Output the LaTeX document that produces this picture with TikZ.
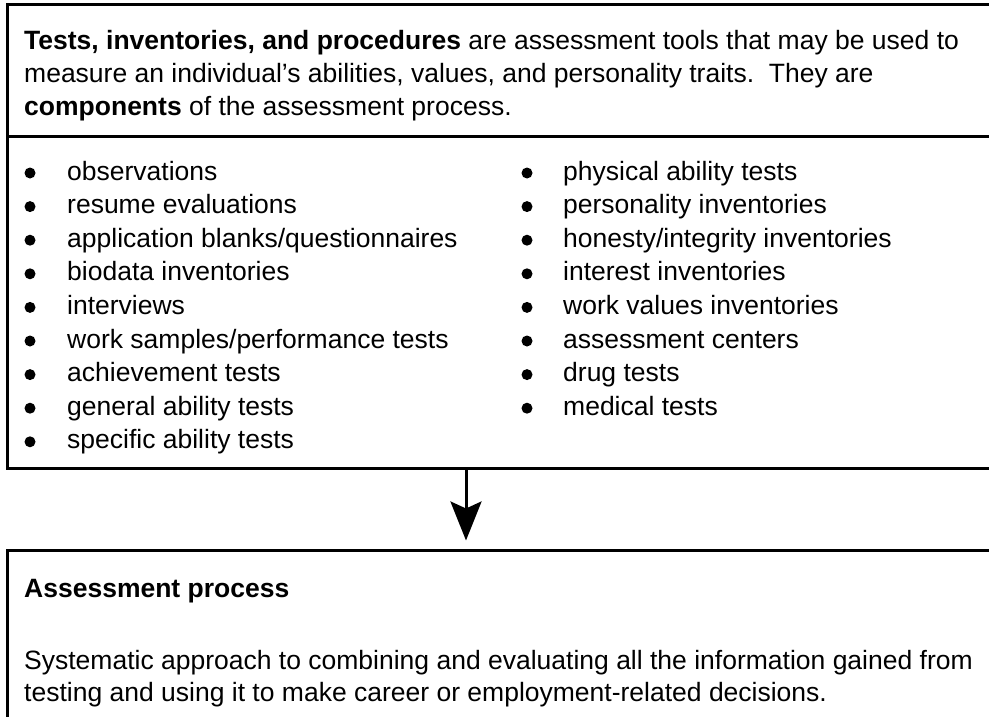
\documentclass[tikz,border=0pt]{standalone}
\usepackage{fontspec}
\setmainfont{Liberation Sans}
\usetikzlibrary{arrows.meta,positioning}
\newcommand{\bodyfont}{\fontsize{26.5}{33}\selectfont}

\begin{document}
\begin{tikzpicture}[x=1pt,y=-1pt,
  boxline/.style={draw,line width=3pt,inner sep=0pt},
  para/.style={anchor=base west,inner sep=0pt,font=\bodyfont},
  listitem/.style={anchor=base west,inner sep=0pt,font=\bodyfont},
  dot/.style={circle,fill,inner sep=0pt,minimum width=10.5pt,minimum height=11pt},
  flow/.style={-{Stealth[length=39pt,width=31pt,inset=7pt]},line width=3pt,shorten >=8pt}
]
  \useasboundingbox (0,0) rectangle (989,717);
  \clip (0,0) rectangle (989,717);
  % Boxes (run on past the right and lower edge)
  \node[boxline,minimum width=992.5pt,minimum height=463pt] (comps) at (503.75,236.5) {};
  \node[boxline,minimum width=992.5pt,minimum height=200pt] (proc) at (503.75,650) {};
  \coordinate (split) at (0,136);
  \draw[line width=3pt] (comps.west |- split) -- (comps.east |- split);
  % Intro text
  \node[para] (intro1) at (24,50) {\textbf{Tests, inventories, and procedures} are assessment tools that may be used to};
  \node[para] (intro2) at (24,83) {measure an individual’s abilities, values, and personality traits.\ \ They are};
  \node[para] (intro3) at (24,116) {\textbf{components} of the assessment process.};
  % Left column
  \node[listitem] (l1) at (67,180) {observations};
  \node[listitem] (l2) at (67,213.6) {resume evaluations};
  \node[listitem] (l3) at (67,247.2) {application blanks/questionnaires};
  \node[listitem] (l4) at (67,280.8) {biodata inventories};
  \node[listitem] (l5) at (67,314.4) {interviews};
  \node[listitem] (l6) at (67,348) {work samples/performance tests};
  \node[listitem] (l7) at (67,381.6) {achievement tests};
  \node[listitem] (l8) at (67,415.2) {general ability tests};
  \node[listitem] (l9) at (67,448.8) {specific ability tests};
  % Right column
  \node[listitem] (r1) at (563,180) {physical ability tests};
  \node[listitem] (r2) at (563,213.6) {personality inventories};
  \node[listitem] (r3) at (563,247.2) {honesty/integrity inventories};
  \node[listitem] (r4) at (563,280.8) {interest inventories};
  \node[listitem] (r5) at (563,314.4) {work values inventories};
  \node[listitem] (r6) at (563,348) {assessment centers};
  \node[listitem] (r7) at (563,381.6) {drug tests};
  \node[listitem] (r8) at (563,415.2) {medical tests};
  % Bullets
  \node[dot] (bl1) at (30,173) {};
  \node[dot] (bl2) at (30,206.6) {};
  \node[dot] (bl3) at (30,240.2) {};
  \node[dot] (bl4) at (30,273.8) {};
  \node[dot] (bl5) at (30,307.4) {};
  \node[dot] (bl6) at (30,341) {};
  \node[dot] (bl7) at (30,374.6) {};
  \node[dot] (bl8) at (30,408.2) {};
  \node[dot] (bl9) at (30,441.8) {};
  \node[dot] (br1) at (527,173) {};
  \node[dot] (br2) at (527,206.6) {};
  \node[dot] (br3) at (527,240.2) {};
  \node[dot] (br4) at (527,273.8) {};
  \node[dot] (br5) at (527,307.4) {};
  \node[dot] (br6) at (527,341) {};
  \node[dot] (br7) at (527,374.6) {};
  \node[dot] (br8) at (527,408.2) {};
  % Arrow
  \coordinate (arrx) at (466,0);
  \draw[flow] (comps.south -| arrx) -- (proc.north -| arrx);
  % Process text
  \node[para] (proctitle) at (24,597) {\textbf{Assessment process}};
  \node[para] (procdesc1) at (24,669) {Systematic approach to combining and evaluating all the information gained from};
  \node[para] (procdesc2) at (24,701) {testing and using it to make career or employment-related decisions.};
\end{tikzpicture}
\end{document}
